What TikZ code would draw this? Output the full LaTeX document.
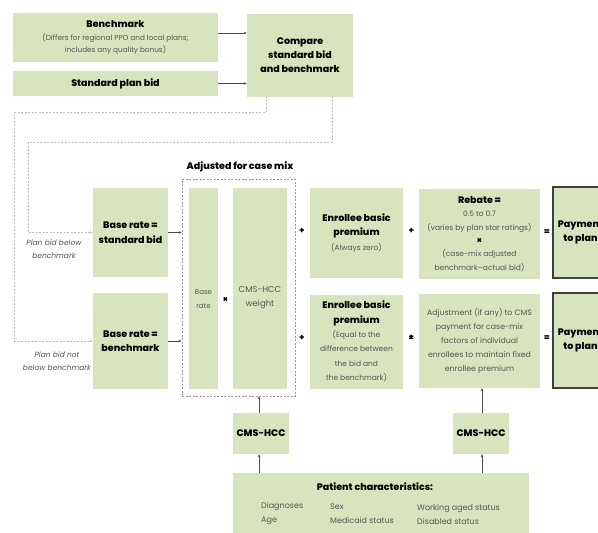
\documentclass[tikz,border=0pt]{standalone}
\usepackage{fontspec}
\setmainfont{Poppins}[BoldFont={Poppins ExtraBold}]
\usetikzlibrary{arrows.meta}
\definecolor{boxgreen}{RGB}{215,228,189}
\definecolor{txtgray}{RGB}{85,85,85}
\definecolor{dashgray}{RGB}{190,190,190}
\newcommand{\bt}[1]{{\fontsize{9.5}{14}\selectfont\bfseries #1}}
\newcommand{\gt}[1]{{\color{txtgray}#1}}
\tikzset{
  box/.style={fill=boxgreen, draw=none, align=center, inner sep=1pt, font=\fontsize{7.5}{12.5}\selectfont},
  bbox/.style={box, font=\fontsize{9.5}{14.5}\selectfont\bfseries},
  paybox/.style={bbox, draw=black!75, line width=1.2pt},
  arr/.style={-{Stealth[length=3pt,width=2.5pt]}, draw=black!70, line width=0.5pt},
  darr/.style={-{Stealth[length=3pt,width=2.5pt]}, draw=dashgray, dashed, dash pattern=on 2pt off 1.5pt, line width=0.5pt},
  dbox/.style={draw=dashgray!80!black, dashed, dash pattern=on 2pt off 1.5pt, line width=0.6pt},
  op/.style={font=\fontsize{8.5}{9}\selectfont\bfseries, inner sep=0pt},
  lbl/.style={font=\fontsize{7.5}{13}\selectfont\itshape, text=txtgray, align=center, inner sep=0pt},
  pcol/.style={anchor=west, inner sep=0pt, align=left, text=txtgray, font=\fontsize{8}{14}\selectfont},
  intxt/.style={inner sep=0pt, align=center, text=txtgray},
}
\begin{document}
\begin{tikzpicture}[x=1pt,y=-1pt]
\useasboundingbox (0,0) rectangle (598,533);
\clip (0,0) rectangle (598,533);
% top boxes
\node[box, minimum width=205, minimum height=49, font=\fontsize{7.3}{12.5}\selectfont] (bench) at (115.5,37.5)
  {\bt{Benchmark}\\\gt{(Differs for regional PPO and local plans;}\\\gt{includes any quality bonus)}};
\node[bbox, minimum width=205, minimum height=25] (std) at (115.5,83.5)
  {Standard plan bid};
\node[bbox, minimum width=106, minimum height=83, font=\fontsize{9.5}{14}\selectfont\bfseries] (comp) at (300,55.5)
  {Compare\\standard bid\\and benchmark};
\draw[arr] (bench.east |- 0,33) -- (comp.west |- 0,33);
\draw[arr] (std.east) -- (std.east -| comp.west);

% base rate boxes
\node[bbox, minimum width=75, minimum height=89] (bstd) at (130.5,232.5)
  {Base rate =\\standard bid};
\node[bbox, minimum width=75, minimum height=96] (bbm) at (130.5,341)
  {Base rate =\\benchmark};

% dashed connectors
\coordinate (c1) at (266,96);
\coordinate (c2) at (332,96);
\draw[darr] (c1) -- (266,112) -- (14,112) |- (bbm.west);
\draw[darr] (c2) -- (332,142) -- (28,142) |- (bstd.west);
\node[lbl] (l1) at (54,249.5) {Plan bid below\\benchmark};
\node[lbl] (l2) at (57,361) {Plan bid not\\below benchmark};

% adjusted for case mix
\node[dbox, minimum width=113, minimum height=217] (adj) at (238.5,287.5) {};
\node[font=\fontsize{9.5}{11}\selectfont\bfseries, anchor=south, inner sep=1pt] (adjt) at (240,173) {Adjusted for case mix};
\node[box, minimum width=29, minimum height=201] (br) at (203.5,288.5) {};
\node[box, minimum width=54, minimum height=201] (cw) at (260,288.5) {};
\node[intxt, font=\fontsize{7}{14}\selectfont] (brt) at (203.5,299) {Base\\rate};
\node[intxt, font=\fontsize{8.5}{14.5}\selectfont] (cwt) at (260,297.5) {CMS-HCC\\weight};
\node[op] (x1) at (225.5,300) {×};
\draw[arr] (bstd.east) -- (bstd.east -| adj.west);
\draw[arr] (bbm.east) -- (bbm.east -| adj.west);

% top row right
\node[op] (p1) at (302,231) {+};
\node[box, minimum width=93, minimum height=90, font=\fontsize{7.5}{14.5}\selectfont] (ebp1) at (356.5,233)
  {\bt{Enrollee basic}\\\bt{premium}\\\gt{(Always zero)}};
\node[op] (p2) at (411.5,231) {+};
\node[box, minimum width=121, minimum height=90, font=\fontsize{7.5}{13.3}\selectfont] (reb) at (479.5,234)
  {\bt{Rebate =}\\\gt{0.5 to 0.7}\\\gt{(varies by plan star ratings)}\\{\fontsize{8.5}{9}\selectfont\bfseries ×}\\\gt{(case-mix adjusted}\\\gt{benchmark--actual bid)}};
\node[op] (e1) at (547,232) {=};
\node[paybox, minimum width=55, minimum height=91] (pay1) at (580.5,232.5) {Payment\\to plan};

% bottom row right
\node[op] (p3) at (302,338) {+};
\node[box, minimum width=93, minimum height=94, font=\fontsize{7.5}{14.3}\selectfont] (ebp2) at (356.5,341.5)
  {\bt{Enrollee basic}\\\bt{premium}\\\gt{(Equal to the}\\\gt{difference between}\\\gt{the bid and}\\\gt{the benchmark)}};
\node[op] (pm) at (411.5,338) {±};
\node[box, minimum width=121, minimum height=94, text=txtgray, font=\fontsize{7.8}{14}\selectfont] (adjm) at (479.5,341)
  {Adjustment (if any) to CMS\\payment for case-mix\\factors of individual\\enrollees to maintain fixed\\enrollee premium};
\node[op] (e2) at (547,338) {=};
\node[paybox, minimum width=55, minimum height=95] (pay2) at (580.5,340.5) {Payment\\to plan};

% CMS-HCC boxes
\node[bbox, minimum width=56, minimum height=41] (cmsl) at (261,433.5) {CMS-HCC};
\node[bbox, minimum width=56, minimum height=41] (cmsr) at (481,433.5) {CMS-HCC};

% patient characteristics
\node[box, minimum width=296, minimum height=67] (pat) at (381,506.5) {};
\node[font=\fontsize{9.5}{11}\selectfont\bfseries, inner sep=0pt] (patt) at (375,487) {Patient characteristics:};
\node[pcol] (pc1) at (261,514) {Diagnoses\\Age};
\node[pcol] (pc2) at (330,514) {Sex\\Medicaid status};
\node[pcol] (pc3) at (417,514) {Working aged status\\Disabled status};

\draw[arr] (cmsl.north -| 259,0) -- (adj.south -| 259,0);
\draw[arr] (pat.north -| 259,0) -- (cmsl.south -| 259,0);
\draw[arr] (pat.north -| 482,0) -- (cmsr.south -| 482,0);
\draw[arr] (cmsr.north -| 482,0) -- (adjm.south -| 482,0);
\end{tikzpicture}
\end{document}
